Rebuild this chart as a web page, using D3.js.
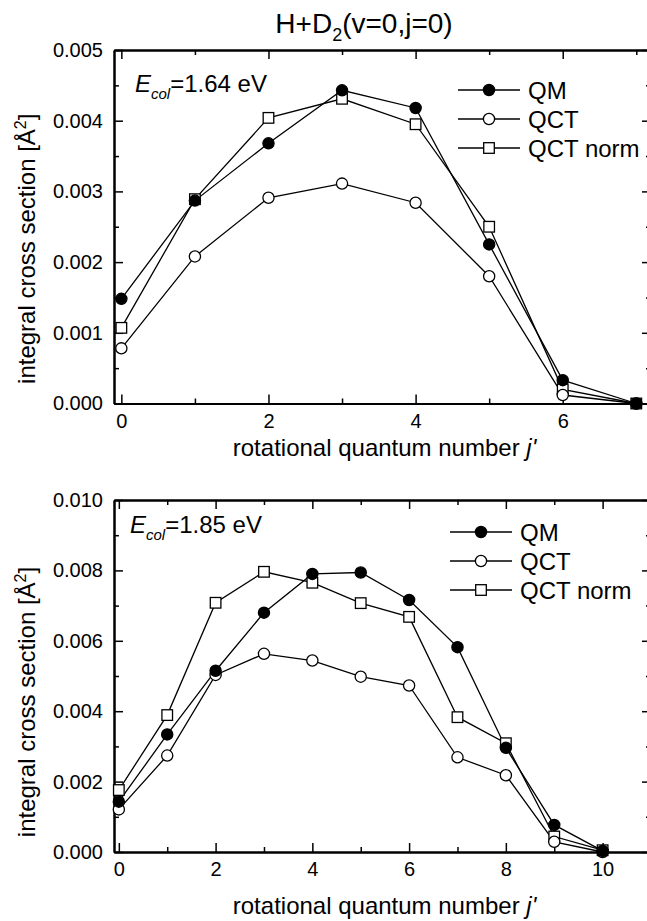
<!DOCTYPE html>
<html>
<head>
<meta charset="utf-8">
<script src="https://cdn.jsdelivr.net/npm/d3@7"></script>
<style>
  body { margin: 0; background: #fff; }
  svg { display: block; font-family: "Liberation Sans", Arial, sans-serif; }
  .axis path, .axis line { stroke: #000; }
  .axis text { fill: #000; }
</style>
</head>
<body>
<svg id="chart" width="647" height="921"></svg>
<script>
// Data
const jTop = [0, 1, 2, 3, 4, 5, 6, 7];
const qmTop = [0.00148, 0.00287, 0.00368, 0.00443, 0.00418, 0.00225, 0.00033, 0.0];
const qctTop = [0.00078, 0.00208, 0.00291, 0.00311, 0.00284, 0.0018, 0.00012, 0.0];
const qctNormTop = [0.00107, 0.00289, 0.00404, 0.00431, 0.00395, 0.0025, 0.0002, 0.0];

const jBottom = [0, 1, 2, 3, 4, 5, 6, 7, 8, 9, 10];
const qmBottom = [0.00143, 0.00334, 0.00515, 0.0068, 0.0079, 0.00794, 0.00716, 0.00582, 0.00296, 0.00077, 0.00003];
const qctBottom = [0.00121, 0.00274, 0.00503, 0.00563, 0.00544, 0.00498, 0.00473, 0.00269, 0.00218, 0.00029, 0.0];
const qctNormBottom = [0.00176, 0.00389, 0.00708, 0.00796, 0.00765, 0.00707, 0.00668, 0.00383, 0.00309, 0.00044, 0.00005];

const seriesNames = ["QM", "QCT", "QCT norm"];
const energies = ["1.64 eV", "1.85 eV"];

const svg = d3.select("#chart");
const font = "\"Liberation Sans\", Arial, sans-serif";

// Title
const title = svg.append("text")
  .attr("x", 364)
  .attr("y", 33)
  .attr("text-anchor", "middle")
  .style("font-size", "28px");
title.append("tspan").text("H+D");
title.append("tspan").attr("dy", 8).style("font-size", "18px").text("2");
title.append("tspan").attr("dy", -8).text("(v=0,j=0)");

function drawPanel(p) {
  const x = d3.scaleLinear().domain(p.xDomain).range([p.left, p.right]);
  const y = d3.scaleLinear().domain(p.yDomain).range([p.bottom, p.top]);
  const g = svg.append("g");

  // major + minor ticks, all pointing inward
  const addAxis = (axis, transform, labels) => {
    const a = g.append("g")
      .attr("class", "axis")
      .attr("transform", transform)
      .call(axis);
    a.select(".domain").attr("stroke-width", 2);
    a.selectAll(".tick line").attr("stroke-width", 1.5);
    a.selectAll("text").style("font-size", "20px").style("font-family", font);
    if (!labels) a.selectAll("text").remove();
    return a;
  };

  addAxis(d3.axisBottom(x).tickValues(p.xMajor).tickFormat(d3.format("d"))
    .tickSize(-9).tickSizeOuter(0).tickPadding(10), `translate(0,${p.bottom})`, true);
  addAxis(d3.axisBottom(x).tickValues(p.xMinor).tickSize(-5).tickSizeOuter(0),
    `translate(0,${p.bottom})`, false);
  addAxis(d3.axisTop(x).tickValues(p.xMajor).tickSize(-9).tickSizeOuter(0),
    `translate(0,${p.top})`, false);
  addAxis(d3.axisTop(x).tickValues(p.xMinor).tickSize(-5).tickSizeOuter(0),
    `translate(0,${p.top})`, false);

  addAxis(d3.axisLeft(y).tickValues(p.yMajor).tickFormat(d3.format(".3f"))
    .tickSize(-9).tickSizeOuter(0).tickPadding(11), `translate(${p.left},0)`, true);
  addAxis(d3.axisLeft(y).tickValues(p.yMinor).tickSize(-5).tickSizeOuter(0),
    `translate(${p.left},0)`, false);
  addAxis(d3.axisRight(y).tickValues(p.yMajor).tickSize(-9).tickSizeOuter(0),
    `translate(${p.right},0)`, false);
  addAxis(d3.axisRight(y).tickValues(p.yMinor).tickSize(-5).tickSizeOuter(0),
    `translate(${p.right},0)`, false);

  // axis titles
  const xt = g.append("text")
    .attr("x", (p.left + p.right) / 2 + 2)
    .attr("y", p.xTitleY)
    .attr("text-anchor", "middle")
    .style("font-size", "24px");
  xt.append("tspan").text("rotational quantum number ");
  xt.append("tspan").style("font-style", "italic").text("j'");

  const yt = g.append("text")
    .attr("transform", `translate(35,${(p.top + p.bottom) / 2 + p.yTitleShift}) rotate(-90)`)
    .attr("text-anchor", "middle")
    .style("font-size", "24px");
  yt.append("tspan").text("integral cross section [Å");
  yt.append("tspan").attr("dy", -9).style("font-size", "16px").text("2");
  yt.append("tspan").attr("dy", 9).text("]");

  // annotation
  const ann = g.append("text")
    .attr("x", p.annX)
    .attr("y", p.annY)
    .style("font-size", "24px");
  ann.append("tspan").style("font-style", "italic").text("E");
  ann.append("tspan").attr("dy", 7).style("font-style", "italic").style("font-size", "15px").text("col");
  ann.append("tspan").attr("dy", -7).text("=" + p.energy);

  // series
  const series = [
    { name: seriesNames[0], values: p.qm, shape: "circle", fill: "#000" },
    { name: seriesNames[1], values: p.qct, shape: "circle", fill: "#fff" },
    { name: seriesNames[2], values: p.qctNorm, shape: "square", fill: "#fff" }
  ];

  const line = d3.line().x((d, i) => x(p.j[i])).y(d => y(d));
  const plot = g.append("g");

  series.forEach(s => {
    plot.append("path")
      .datum(s.values)
      .attr("fill", "none")
      .attr("stroke", "#000")
      .attr("stroke-width", 1.3)
      .attr("d", line);
  });

  const marker = (sel, s, cx, cy) => {
    if (s.shape === "circle") {
      sel.append("circle")
        .attr("cx", cx).attr("cy", cy).attr("r", 5.6)
        .attr("fill", s.fill).attr("stroke", "#000").attr("stroke-width", 1.3);
    } else {
      sel.append("rect")
        .attr("x", cx - 5.3).attr("y", cy - 5.3)
        .attr("width", 10.6).attr("height", 10.6)
        .attr("fill", s.fill).attr("stroke", "#000").attr("stroke-width", 1.3);
    }
  };

  // squares first, then open circles, filled circles on top
  [series[2], series[1], series[0]].forEach(s => {
    s.values.forEach((v, i) => marker(plot, s, x(p.j[i]), y(v)));
  });

  // legend
  const leg = g.append("g");
  series.forEach((s, i) => {
    const ly = p.legY + i * 29;
    leg.append("line")
      .attr("x1", p.legX).attr("x2", p.legX + 62)
      .attr("y1", ly).attr("y2", ly)
      .attr("stroke", "#000").attr("stroke-width", 1.3);
    marker(leg, s, p.legX + 31, ly);
    leg.append("text")
      .attr("x", p.legX + 70)
      .attr("y", ly)
      .attr("dy", "0.36em")
      .style("font-size", "24px")
      .text(s.name);
  });
}

drawPanel({
  j: jTop, qm: qmTop, qct: qctTop, qctNorm: qctNormTop,
  xDomain: [-0.1, 7.2], yDomain: [0, 0.005],
  left: 114, right: 651, top: 50, bottom: 403.5,
  xMajor: [0, 2, 4, 6], xMinor: [1, 3, 5, 7],
  yMajor: [0, 0.001, 0.002, 0.003, 0.004, 0.005],
  yMinor: [0.0005, 0.0015, 0.0025, 0.0035, 0.0045],
  xTitleY: 456, yTitleShift: 22, annX: 135, annY: 92, energy: energies[0],
  legX: 458, legY: 90
});

drawPanel({
  j: jBottom, qm: qmBottom, qct: qctBottom, qctNorm: qctNormBottom,
  xDomain: [-0.1, 11], yDomain: [0, 0.010],
  left: 114, right: 651, top: 500, bottom: 852,
  xMajor: [0, 2, 4, 6, 8, 10], xMinor: [1, 3, 5, 7, 9],
  yMajor: [0, 0.002, 0.004, 0.006, 0.008, 0.010],
  yMinor: [0.001, 0.003, 0.005, 0.007, 0.009],
  xTitleY: 914, yTitleShift: 26, annX: 130, annY: 533, energy: energies[1],
  legX: 450, legY: 532
});
</script>
</body>
</html>
